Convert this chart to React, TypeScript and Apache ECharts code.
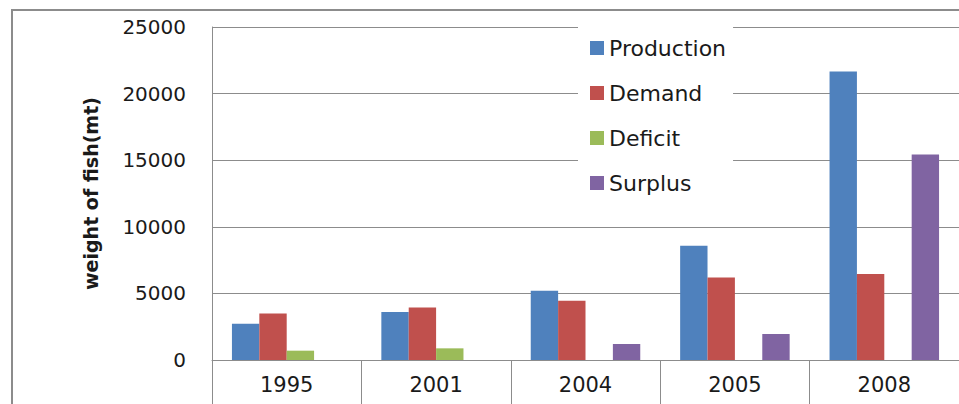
import React, { useEffect, useRef } from "react";
import * as echarts from "echarts";

const categories = ["1995", "2001", "2004", "2005", "2008"];
const production = [2720, 3600, 5200, 8580, 21650];
const demand = [3500, 3950, 4450, 6200, 6450];
const deficit = [700, 875, 0, 0, 0];
const surplus = [0, 0, 1200, 1950, 15430];
const yTicks = { min: 0, max: 25000, interval: 5000 };

const FONT = "DejaVu Sans";

export default function App() {
  const ref = useRef<HTMLDivElement>(null);
  useEffect(() => {
    if (!ref.current) return;
    const chart = echarts.init(ref.current, undefined, { renderer: "svg" });
    const mk = (name: string, data: number[], color: string) => ({
      name,
      type: "bar",
      data,
      barGap: "0%",
      barCategoryGap: "26.7%",
      itemStyle: { color },
    });
    chart.setOption({
      animation: false,
      backgroundColor: "#ffffff",
      graphic: [
        {
          type: "rect",
          shape: { x: 12, y: 10, width: 1000, height: 500 },
          style: { fill: "none", stroke: "#8c8c8c", lineWidth: 2 },
          z: 100,
        },
      ],
      grid: { left: 212, top: 27, width: 757, height: 333 },
      legend: {
        orient: "vertical",
        left: 578,
        top: 27,
        padding: [10, 7, 12, 12],
        itemGap: 23,
        itemWidth: 14,
        itemHeight: 14,
        icon: "rect",
        backgroundColor: "#ffffff",
        z: 10,
        textStyle: { fontFamily: FONT, fontSize: 22, color: "#1a1a1a", lineHeight: 20 },
        data: ["Production", "Demand", "Deficit", "Surplus"],
      },
      xAxis: {
        type: "category",
        data: categories,
        boundaryGap: true,
        axisLine: { lineStyle: { color: "#8c8c8c", width: 1 } },
        axisTick: { show: true, interval: 0, inside: false, length: 50, lineStyle: { color: "#8c8c8c" } },
        axisLabel: { fontFamily: FONT, fontSize: 21, color: "#1a1a1a", margin: 14 },
      },
      yAxis: {
        type: "value",
        min: yTicks.min,
        max: yTicks.max,
        interval: yTicks.interval,
        name: "weight of fish(mt)",
        nameLocation: "middle",
        nameGap: 112,
        nameTextStyle: { fontFamily: FONT, fontSize: 19, fontWeight: "bold", color: "#1a1a1a" },
        axisLine: { show: true, lineStyle: { color: "#8c8c8c", width: 1 } },
        axisTick: { show: false },
        splitLine: { lineStyle: { color: "#8c8c8c", width: 1 } },
        axisLabel: {
          fontFamily: FONT,
          fontSize: 20,
          color: "#1a1a1a",
          margin: 26,
          formatter: (v: number) => String(v),
        },
      },
      series: [
        mk("Production", production, "#4F81BD"),
        mk("Demand", demand, "#C0504D"),
        mk("Deficit", deficit, "#9BBB59"),
        mk("Surplus", surplus, "#8064A2"),
      ],
    });
    return () => chart.dispose();
  }, []);
  return (
    <div
      ref={ref}
      style={{ position: "fixed", left: 0, top: 0, width: 959, height: 404 }}
    />
  );
}
